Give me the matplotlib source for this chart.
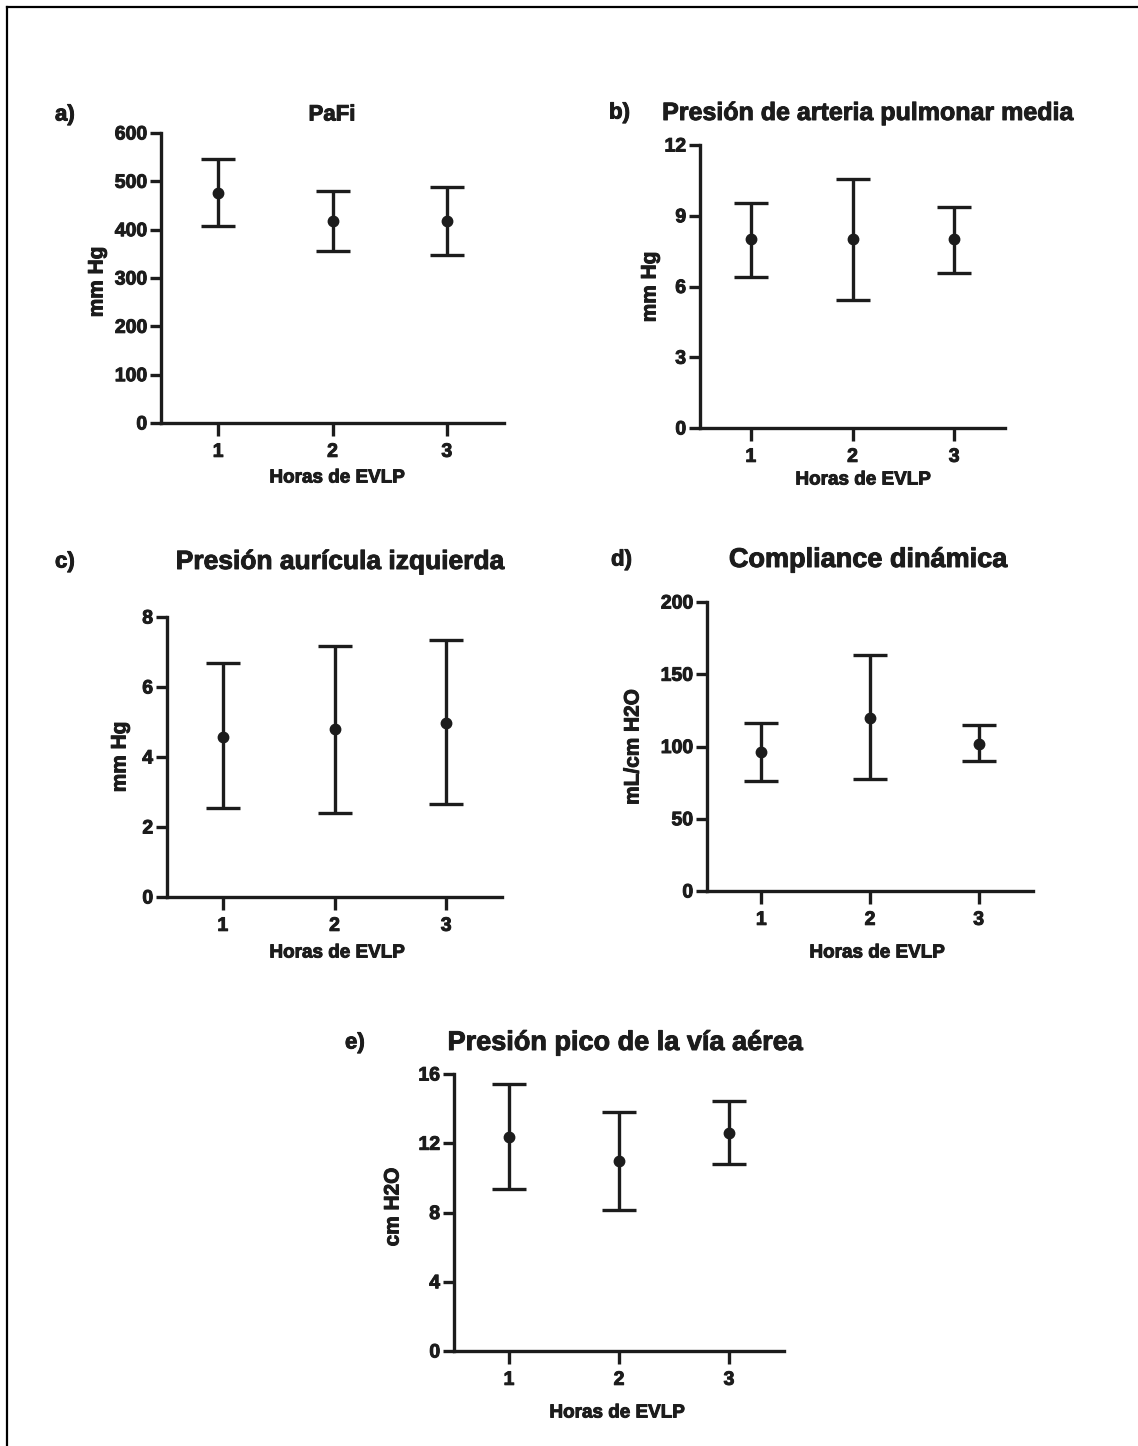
import matplotlib.pyplot as plt
import matplotlib.patheffects as pe
from matplotlib.lines import Line2D

plt.rcParams['font.family'] = ['Liberation Sans', 'DejaVu Sans']
plt.rcParams['font.weight'] = 'bold'

W, H = 1138, 1446
INK = '#1c1c1c'
# the scan's lettering is heavier than Liberation Sans Bold
HEAVY = [pe.withStroke(linewidth=0.7, foreground=INK)]

hours = [1, 2, 3]
xlabel = "Horas de EVLP"

# a) PaFi
pafi_mean = [476, 417, 418]
pafi_low = [407, 355, 348]
pafi_high = [546, 481, 488]

# b) Presion de arteria pulmonar media
papm_mean = [8.0, 8.0, 8.0]
papm_low = [6.42, 5.44, 6.59]
papm_high = [9.56, 10.55, 9.39]

# c) Presion auricula izquierda
pai_mean = [4.58, 4.79, 4.98]
pai_low = [2.53, 2.41, 2.65]
pai_high = [6.68, 7.18, 7.35]

# d) Compliance dinamica
comp_mean = [96, 120, 102]
comp_low = [76, 77.5, 90]
comp_high = [116, 163.5, 115]

# e) Presion pico de la via aerea
ppico_mean = [12.38, 10.99, 12.61]
ppico_low = [9.35, 8.17, 10.78]
ppico_high = [15.42, 13.82, 14.44]

panels = [
    # letter, title, ylabel, mean, low, high, yticks, box (x0, ytop, x1, ybot), title size
    ("a)", "PaFi", "mm Hg", pafi_mean, pafi_low, pafi_high,
     [0, 100, 200, 300, 400, 500, 600], (161, 133, 504, 423), 16),
    ("b)", "Presión de arteria pulmonar media", "mm Hg", papm_mean, papm_low, papm_high,
     [0, 3, 6, 9, 12], (700, 145, 1005, 428), 18),
    ("c)", "Presión aurícula izquierda", "mm Hg", pai_mean, pai_low, pai_high,
     [0, 2, 4, 6, 8], (167, 617, 502, 897), 19),
    ("d)", "Compliance dinámica", "mL/cm H2O", comp_mean, comp_low, comp_high,
     [0, 50, 100, 150, 200], (707, 602, 1033, 891), 19.5),
    ("e)", "Presión pico de la vía aérea", "cm H2O", ppico_mean, ppico_low, ppico_high,
     [0, 4, 8, 12, 16], (454, 1074, 784, 1351), 19.5),
]

# label positions in pixels: letter (x, y), title center (x, y), ylabel (x, y), xlabel (x, y)
text_pos = [
    ((55, 115), (332, 115), (97, 282), (337, 478)),
    ((609, 113), (868, 113), (650, 287), (863, 480)),
    ((55, 562), (340, 562), (120, 757), (337, 953)),
    ((611, 560), (868, 560), (633, 747), (877, 953)),
    ((345, 1043), (625, 1043), (393, 1207), (617, 1413)),
]


def fx(px):
    return px / W


def fy(py):
    return 1 - py / H


fig = plt.figure(figsize=(W / 100, H / 100), dpi=100)

for (letter, title, ylab, mean, low, high, yticks, box, tsize), pos in zip(panels, text_pos):
    x0, yt, x1, yb = box
    ax = fig.add_axes([fx(x0), fy(yb), (x1 - x0) / W, (yb - yt) / H])
    err = [[m - l for m, l in zip(mean, low)], [h - m for m, h in zip(mean, high)]]
    ax.errorbar(hours, mean, yerr=err, fmt='o', color=INK, ms=7.5,
                elinewidth=2.4, capsize=12, capthick=2.4)
    ax.set_xlim(0.5, 3.5)
    ax.set_ylim(yticks[0], yticks[-1])
    ax.set_xticks(hours)
    ax.set_yticks(yticks)
    for s in ['top', 'right']:
        ax.spines[s].set_visible(False)
    for s in ['left', 'bottom']:
        ax.spines[s].set_linewidth(2.4)
        ax.spines[s].set_color(INK)
    ax.tick_params(axis='y', length=8, width=2.4, pad=2, labelsize=14, colors=INK)
    ax.tick_params(axis='x', length=9, width=2.4, pad=6, labelsize=14, colors=INK)
    for lab in ax.get_xticklabels() + ax.get_yticklabels():
        lab.set_fontweight('bold')
        lab.set_path_effects(HEAVY)

    (lx, ly), (tx, ty), (yx, yy), (xx, xy) = pos
    fig.text(fx(lx), fy(ly), letter, fontsize=16, fontweight='bold', color=INK,
             ha='left', va='center', path_effects=HEAVY)
    fig.text(fx(tx), fy(ty), title, fontsize=tsize, fontweight='bold', color=INK,
             ha='center', va='center', path_effects=HEAVY)
    fig.text(fx(yx), fy(yy), ylab, fontsize=15, fontweight='bold', color=INK,
             ha='center', va='center', rotation=90, path_effects=HEAVY)
    fig.text(fx(xx), fy(xy), xlabel, fontsize=13.6, fontweight='bold', color=INK,
             ha='center', va='center', path_effects=HEAVY)

# frame around the figure (top and left edges only, as in the scan)
fig.add_artist(Line2D([fx(6.5), fx(6.5)], [0, fy(6.5)], color='black', lw=1.6))
fig.add_artist(Line2D([fx(6.5), 1], [fy(6.5), fy(6.5)], color='black', lw=1.6))

plt.savefig("out.png", dpi=100)
